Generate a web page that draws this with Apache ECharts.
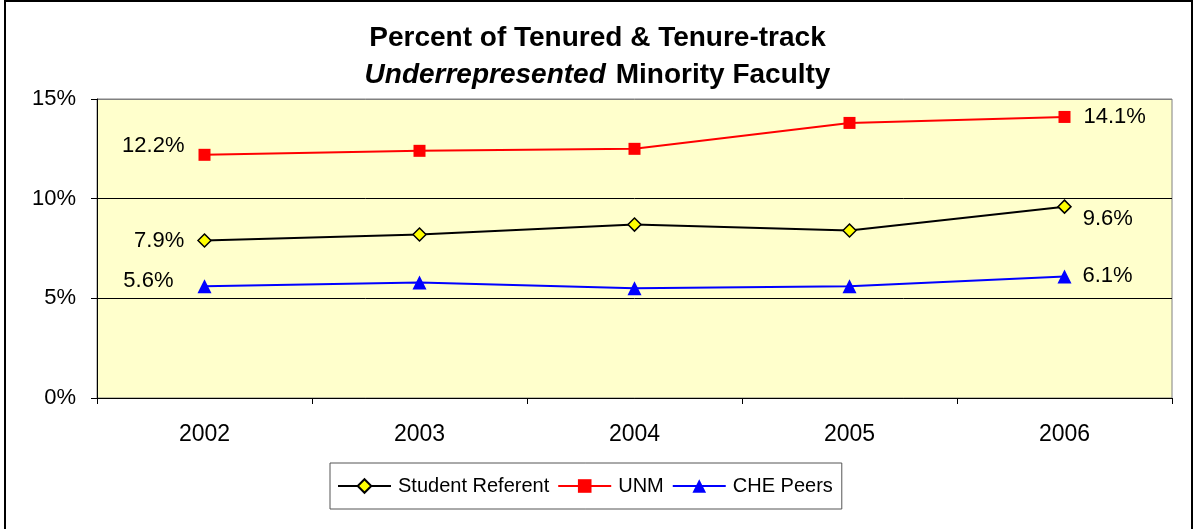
<!DOCTYPE html>
<html>
<head>
<meta charset="utf-8">
<script src="https://cdn.jsdelivr.net/npm/echarts@6/dist/echarts.min.js"></script>
<style>
html,body{margin:0;padding:0;background:#fff;}
#chart{width:1195px;height:529px;}
</style>
</head>
<body>
<div id="chart"></div>
<script>
const years = ['2002', '2003', '2004', '2005', '2006'];
const studentReferent = [7.9, 8.2, 8.7, 8.4, 9.6];
const unm = [12.2, 12.4, 12.5, 13.8, 14.1];
const chePeers = [5.6, 5.8, 5.5, 5.6, 6.1];
const yTicks = [0, 5, 10, 15];

const FONT = "'Liberation Sans', Arial, sans-serif";

function withEndLabels(values, first, last) {
  return values.map((v, i) => {
    if (i === 0) return { value: v, label: Object.assign({ show: true }, first) };
    if (i === values.length - 1) return { value: v, label: Object.assign({ show: true }, last) };
    return { value: v };
  });
}
const lblFmt = p => p.value.toFixed(1) + '%';
const lblBase = { color: '#000', fontFamily: FONT, fontSize: 22, formatter: lblFmt };

const chart = echarts.init(document.getElementById('chart'));
chart.setOption({
  animation: false,
  backgroundColor: '#fff',
  graphic: [{
    type: 'rect', shape: { x: 5, y: 1, width: 1187, height: 532 },
    style: { fill: 'none', stroke: '#000', lineWidth: 2 }, z: 100
  }],
  title: [{
    left: 'center', top: 19,
    text: 'Percent of Tenured & Tenure-track',
    textStyle: { fontFamily: FONT, fontSize: 28, fontWeight: 'bold', color: '#000', lineHeight: 28 }
  }, {
    left: 'center', top: 56,
    text: '{i|Underrepresented}  {b|Minority Faculty}',
    textStyle: {
      rich: {
        i: { fontFamily: FONT, fontSize: 28, fontWeight: 'bold', fontStyle: 'italic', color: '#000', lineHeight: 28 },
        b: { fontFamily: FONT, fontSize: 28, fontWeight: 'bold', color: '#000', lineHeight: 28 }
      }
    }
  }],
  legend: {
    left: 330, top: 463,
    backgroundColor: '#fff', borderColor: '#555', borderWidth: 1,
    padding: [13, 9, 13, 7], itemGap: 8,
    itemWidth: 53, itemHeight: 17,
    textStyle: { fontFamily: FONT, fontSize: 20, color: '#000', padding: [0, 0, 0, 2] },
    data: ['Student Referent', 'UNM', 'CHE Peers']
  },
  grid: {
    left: 97, right: 23, top: 99, bottom: 131, show: true,
    backgroundColor: '#FFFFCC', borderColor: '#808080', borderWidth: 1
  },
  xAxis: {
    type: 'category', data: years, boundaryGap: true,
    axisLine: { show: true, lineStyle: { color: '#000', width: 1 } },
    axisTick: { show: true, interval: 0, length: 6, lineStyle: { color: '#000' } },
    axisLabel: { fontFamily: FONT, fontSize: 23, color: '#000', margin: 25 }
  },
  yAxis: {
    type: 'value', min: yTicks[0], max: yTicks[yTicks.length - 1], interval: 5,
    axisLine: { show: true, lineStyle: { color: '#000', width: 1 } },
    axisTick: { show: true, length: 6, lineStyle: { color: '#000' } },
    axisLabel: { fontFamily: FONT, fontSize: 22, color: '#000', margin: 21, formatter: '{value}%' },
    splitLine: { show: true, lineStyle: { color: ['#000', '#000', '#000', '#808080'], width: 1 } }
  },
  series: [
    {
      name: 'Student Referent', type: 'line',
      data: withEndLabels(studentReferent,
        Object.assign({}, lblBase, { position: 'left', distance: 13 }),
        Object.assign({}, lblBase, { position: 'right', distance: 11, offset: [0, 12] })),
      symbol: 'diamond', symbolSize: 13,
      lineStyle: { color: '#000', width: 2 },
      itemStyle: { color: '#FFFF00', borderColor: '#000', borderWidth: 1.5 },
      z: 3
    },
    {
      name: 'UNM', type: 'line',
      data: withEndLabels(unm,
        Object.assign({}, lblBase, { position: 'left', distance: 14, offset: [0, -9] }),
        Object.assign({}, lblBase, { position: 'right', distance: 13, offset: [0, 0] })),
      symbol: 'rect', symbolSize: 12,
      lineStyle: { color: '#FF0000', width: 2 },
      itemStyle: { color: '#FF0000', borderColor: '#FF0000', borderWidth: 0 },
      z: 2
    },
    {
      name: 'CHE Peers', type: 'line',
      data: withEndLabels(chePeers,
        Object.assign({}, lblBase, { position: 'left', distance: 24, offset: [0, -5] }),
        Object.assign({}, lblBase, { position: 'right', distance: 11, offset: [0, 0] })),
      symbol: 'triangle', symbolSize: 14,
      lineStyle: { color: '#0000FF', width: 2 },
      itemStyle: { color: '#0000FF', borderColor: '#0000FF', borderWidth: 0 },
      z: 2
    }
  ]
});
</script>
</body>
</html>
